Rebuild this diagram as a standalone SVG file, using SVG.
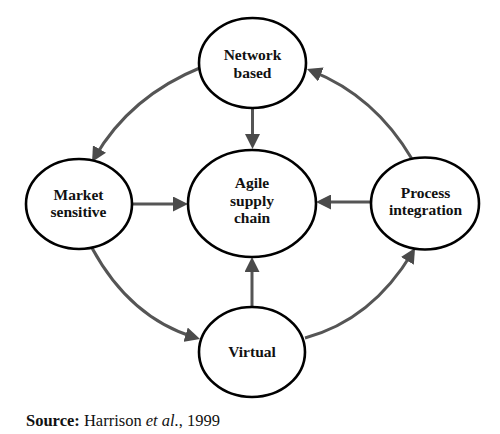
<svg xmlns="http://www.w3.org/2000/svg" width="500" height="434" viewBox="0 0 500 434">
<style>
.node ellipse{fill:#fff;stroke:#000;stroke-width:2.6}
.node text{font-family:"Liberation Serif","Times New Roman",serif;font-weight:bold;font-size:15.5px;fill:#111;text-anchor:middle}
.conn path{fill:none;stroke:#555;stroke-width:3}
.src{font-family:"Liberation Serif","Times New Roman",serif;font-size:16.5px;fill:#111}
</style>
<defs>
<marker id="ah" markerUnits="userSpaceOnUse" viewBox="0 0 15 15" markerWidth="15" markerHeight="15" refX="10" refY="7.5" orient="auto">
<path d="M0,0 L15,7.5 L0,15 z" fill="#4a4a4a"/>
</marker>
</defs>
<rect width="500" height="434" fill="#fff"/>
<g id="connectors" class="conn">
<path d="M252.5,108 V144" marker-end="url(#ah)"/>
<path d="M132,204 H183" marker-end="url(#ah)"/>
<path d="M371,202 H321" marker-end="url(#ah)"/>
<path d="M252,307 V262" marker-end="url(#ah)"/>
<path d="M202,67 Q130,96 94.5,157.7" marker-end="url(#ah)"/>
<path d="M412,159 Q375,96 311.6,70.8" marker-end="url(#ah)"/>
<path d="M92,248 Q130,318 195.2,337.6" marker-end="url(#ah)"/>
<path d="M305,338 Q372,320 412.5,252.3" marker-end="url(#ah)"/>
</g>
<g id="network" class="node">
<ellipse cx="252.5" cy="63" rx="53.5" ry="45"/>
<text x="252.5" y="60">Network</text>
<text x="252.5" y="78">based</text>
</g>
<g id="agile" class="node">
<ellipse cx="252" cy="203.5" rx="64" ry="53.5"/>
<text x="252" y="188">Agile</text>
<text x="252" y="205.5">supply</text>
<text x="252" y="223">chain</text>
</g>
<g id="market" class="node">
<ellipse cx="79" cy="204" rx="53" ry="45"/>
<text x="78.5" y="200">Market</text>
<text x="78.5" y="217">sensitive</text>
</g>
<g id="process" class="node">
<ellipse cx="425" cy="203.5" rx="54" ry="46"/>
<text x="425.5" y="198">Process</text>
<text x="425.5" y="215">integration</text>
</g>
<g id="virtual" class="node">
<ellipse cx="252" cy="352" rx="53" ry="45"/>
<text x="252" y="357">Virtual</text>
</g>
<text class="src" x="26" y="426"><tspan font-weight="bold">Source:</tspan> Harrison <tspan font-style="italic">et al.</tspan>, 1999</text>
</svg>
